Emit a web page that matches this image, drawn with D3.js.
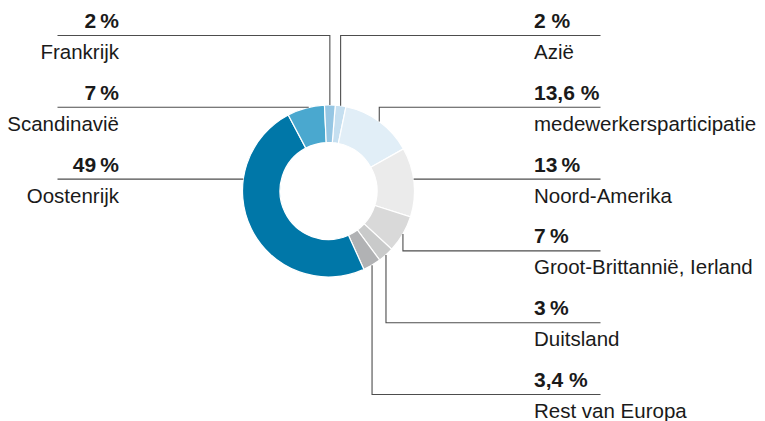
<!DOCTYPE html>
<html>
<head>
<meta charset="utf-8">
<script src="https://cdn.jsdelivr.net/npm/d3@7"></script>
<style>
  body { margin: 0; background: #fff; }
  #chart { width: 765px; height: 421px; }
  text { font-family: "Liberation Sans", Arial, Helvetica, sans-serif; fill: #1a1a1a; }
</style>
</head>
<body>
<div id="chart"></div>
<script>
// slices, clockwise from the top
var categories = ["Azië", "medewerkersparticipatie", "Noord-Amerika", "Groot-Brittannië, Ierland",
    "Duitsland", "Rest van Europa", "Oostenrijk", "Scandinavië", "Frankrijk"];
var values = [2, 13.6, 13, 7, 3, 3.4, 49, 7, 2];
var valueLabels = ["2 %", "13,6 %", "13\u2009%", "7\u2009%", "3\u2009%", "3,4 %", "49\u2009%", "7\u2009%", "2\u2009%"];
// label placement: side, row, connector kind
var sides = ["right", "right", "right", "right", "right", "right", "left", "left", "left"];
var rows = [0, 1, 2, 3, 4, 5, 2, 1, 0];
var connectors = ["v", "v", "h", "v", "v", "v", "h", "h", "v"];

var colors = ["#c5dff0", "#e1eef7", "#ebebeb", "#d9d9d9", "#c9caca", "#b1b2b4", "#0077a8", "#4aa8cf", "#95c6e3"];

var width = 765;
var height = 421;
var cx = 328.5, cy = 191;
var outerR = 86, innerR = 48.5;
var startAngle = 4.5 * Math.PI / 180;

var svg = d3.select("#chart").append("svg")
    .attr("width", width)
    .attr("height", height);

var pie = d3.pie()
    .sort(null)
    .value(function (d) { return d; })
    .startAngle(startAngle)
    .endAngle(startAngle + 2 * Math.PI);

var arc = d3.arc()
    .innerRadius(innerR)
    .outerRadius(outerR);

var arcs = pie(values);

var g = svg.append("g")
    .attr("transform", "translate(" + cx + "," + cy + ")");

g.selectAll("path")
    .data(arcs)
    .enter()
    .append("path")
    .attr("d", arc)
    .attr("fill", function (d, i) { return colors[i]; })
    .attr("stroke", "#fff")
    .attr("stroke-width", 1.2);

// row positions of the label lines
var rowY = d3.scaleLinear().domain([0, 5]).range([35.5, 394.5]);
var leftX = [57.5, 119];   // line start, text right edge
var rightX = [534, 600.5]; // text left edge, line end

var labels = svg.append("g");

arcs.forEach(function (d, i) {
    var y = rowY(rows[i]);
    var endX = sides[i] === "right" ? rightX[1] : leftX[0];
    var pts;
    if (connectors[i] === "v") {
        var mid = (d.startAngle + d.endAngle) / 2;
        var ax = cx + outerR * Math.sin(mid);
        var ay = cy - outerR * Math.cos(mid);
        pts = [[ax, ay], [ax, y], [endX, y]];
    } else {
        var dx = Math.sqrt(outerR * outerR - (y - cy) * (y - cy));
        var ex = sides[i] === "right" ? cx + dx : cx - dx;
        pts = [[ex, y], [endX, y]];
    }
    labels.append("path")
        .attr("d", d3.line()(pts))
        .attr("fill", "none")
        .attr("stroke", "#4d4d4d")
        .attr("stroke-width", 1.1);

    var tx = sides[i] === "right" ? rightX[0] : leftX[1];
    var anchor = sides[i] === "right" ? "start" : "end";
    labels.append("text")
        .attr("x", tx)
        .attr("y", y - 7.5)
        .attr("text-anchor", anchor)
        .style("font-size", "21px")
        .style("font-weight", "bold")
        .text(valueLabels[i]);
    labels.append("text")
        .attr("x", tx)
        .attr("y", y + 23.5)
        .attr("text-anchor", anchor)
        .style("font-size", "20.5px")
        .text(categories[i]);
});
</script>
</body>
</html>
